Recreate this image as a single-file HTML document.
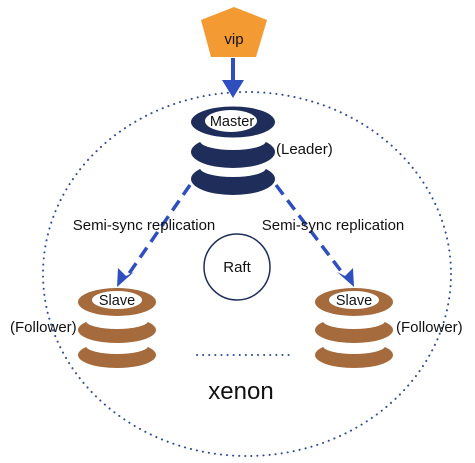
<!DOCTYPE html>
<html><head><style>body{margin:0;background:#fff}svg{display:block}text{font-family:"Liberation Sans",sans-serif;fill:#111}</style></head><body>
<svg width="475" height="463" viewBox="0 0 475 463">
<ellipse cx="247" cy="274" rx="204" ry="182" fill="none" stroke="#2f4a9a" stroke-width="2" stroke-dasharray="0.1 6" stroke-linecap="round"/>
<polygon points="234,7 267,20 256,57 211,57 201,20" fill="#f39a33"/>
<text x="234" y="44" font-size="15" text-anchor="middle">vip</text>
<line x1="233" y1="58" x2="233" y2="84" stroke="#2f4fbf" stroke-width="4"/>
<polygon points="222,80 244,80 233,98" fill="#2f4fbf"/>
<g fill="#1f2d5a">
<ellipse cx="233" cy="179" rx="42" ry="16"/><ellipse cx="233" cy="168" rx="33" ry="9" fill="#fff"/>
<ellipse cx="233" cy="152" rx="42" ry="16"/><ellipse cx="233" cy="141" rx="33" ry="9" fill="#fff"/>
<ellipse cx="233" cy="122" rx="42" ry="15.5"/><ellipse cx="231" cy="121" rx="26" ry="11" fill="#fff"/>
</g>
<text x="232" y="126" font-size="14.5" text-anchor="middle">Master</text>
<text x="276" y="154" font-size="15">(Leader)</text>
<g fill="#a56b3d">
<ellipse cx="117" cy="355" rx="39" ry="13"/><ellipse cx="117" cy="346" rx="31" ry="8" fill="#fff"/>
<ellipse cx="117" cy="330" rx="39" ry="13"/><ellipse cx="117" cy="321" rx="31" ry="8" fill="#fff"/>
<ellipse cx="117" cy="302" rx="39" ry="14"/><ellipse cx="117" cy="300" rx="25" ry="9" fill="#fff"/>
<ellipse cx="354" cy="355" rx="39" ry="13"/><ellipse cx="354" cy="346" rx="31" ry="8" fill="#fff"/>
<ellipse cx="354" cy="330" rx="39" ry="13"/><ellipse cx="354" cy="321" rx="31" ry="8" fill="#fff"/>
<ellipse cx="354" cy="302" rx="39" ry="14"/><ellipse cx="354" cy="300" rx="25" ry="9" fill="#fff"/>
</g>
<text x="117" y="305" font-size="14.5" text-anchor="middle">Slave</text>
<text x="354" y="305" font-size="14.5" text-anchor="middle">Slave</text>
<text x="10" y="332" font-size="15">(Follower)</text>
<text x="396" y="332" font-size="15">(Follower)</text>
<g stroke="#2f4fbf" stroke-width="3.5" stroke-dasharray="12 7" fill="none">
<line x1="190" y1="185" x2="128" y2="275"/><line x1="276" y1="185" x2="344" y2="275"/>
</g>
<polygon points="117,287 118,268 126,276 134,272" fill="#2f4fbf"/>
<polygon points="354,287 353,268 345,276 337,272" fill="#2f4fbf"/>
<text x="144" y="230" font-size="15" text-anchor="middle">Semi-sync replication</text>
<text x="333" y="230" font-size="15" text-anchor="middle">Semi-sync replication</text>
<circle cx="237" cy="267" r="33" fill="none" stroke="#1f2d5a" stroke-width="1.5"/>
<text x="237" y="272" font-size="15" text-anchor="middle">Raft</text>
<line x1="197" y1="355" x2="290" y2="355" stroke="#2f4a9a" stroke-width="2" stroke-dasharray="0.1 6" stroke-linecap="round"/>
<text x="241" y="399" font-size="24" text-anchor="middle">xenon</text>
</svg>
</body></html>
